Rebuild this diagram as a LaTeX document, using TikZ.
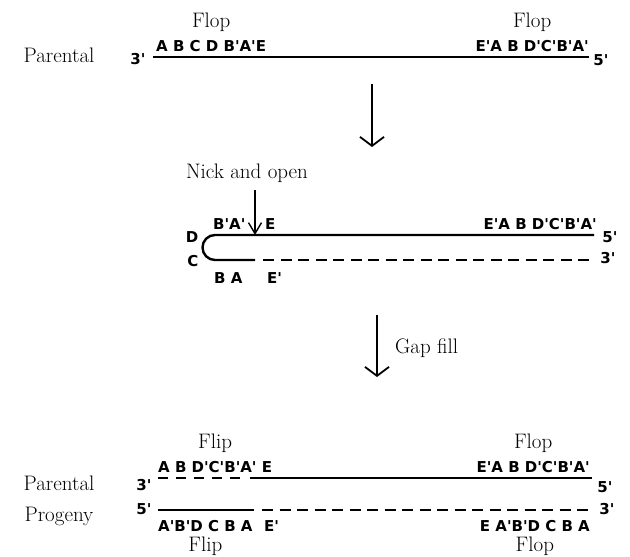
\documentclass[tikz,border=0pt]{standalone}
\usepackage{fontspec}
\newfontfamily\seqfont{DejaVu Sans}
\usepackage{tikz}
\usetikzlibrary{positioning}
\usetikzlibrary{arrows.meta}
\tikzset{seq node/.style={font=\seqfont\bfseries\fontsize{15}{17}\selectfont,inner sep=0pt},
 txt node/.style={font=\fontsize{21}{25}\selectfont,inner sep=0pt},
 strand/.style={line width=2.4pt},
 gap strand/.style={line width=2.4pt,dash pattern=on 11pt off 6.5pt},
 left gap/.style={line width=2.4pt,dash pattern=on 10pt off 8pt},
 down arrow/.style={line width=1.8pt,-{Straight Barb[length=9pt,width=24pt]}},
 nick arrow/.style={line width=1.4pt,-{Straight Barb[length=11pt,width=13pt]}},}

\begin{document}
\begin{tikzpicture}[x=1pt,y=-1pt]
\useasboundingbox (0,0) rectangle (630,557);

% parental
\coordinate (pw) at (153,57);
\coordinate (pe) at (589,57);
\draw[strand] (pw) -- (pe);
\node[txt node,anchor=base] (par) at (59,62) {Parental};
\node[seq node,anchor=base] (p3) at (138,64) {3'};
\node[seq node,anchor=base] (p5) at (601,65) {5'};
\node[seq node,anchor=base west] (pl) at (156,51) {A B C D B'A'E};
\node[seq node,anchor=base east] (pr) at (589,51) {E'A B D'C'B'A'};
\node[txt node] (flopa) [above = 8pt of pl] {Flop};
\node[txt node] (flopb) [above = 8pt of pr] {Flop};

\coordinate (a1s) at (372,84);
\coordinate (a1e) at (372,147);
\path[down arrow,draw] (a1s) -- (a1e);

% nicked hairpin
\coordinate (ut) at (215,235);
\coordinate (ue) at (594,235);
\coordinate (nk) at (255,260);
\coordinate (gs) at (263,260);
\coordinate (ge) at (594,260);
\draw[strand] (ue) -- (ut) arc[start angle=270,end angle=90,radius=12.5] -- (nk);
\draw[gap strand] (gs) -- (ge);
\node[txt node,anchor=base] (nick) at (247,178) {Nick and open};
\coordinate (ns) at (255,190);
\coordinate (nt) at (255,235);
\path[nick arrow,draw] (ns) -- (nt);
\node[seq node,anchor=base] (hd) at (192,242) {D};
\node[seq node,anchor=base] (hc) at (193,266) {C};
\node[seq node,anchor=base west] (ha) at (213,229) {B'A'};
\node[seq node,anchor=base west] (he) at (265,229) {E};
\node[seq node,anchor=base east] (hr) at (597,229) {E'A B D'C'B'A'};
\node[seq node,anchor=base west] (hb) at (214,283) {B A};
\node[seq node,anchor=base west] (hf) at (267,283) {E'};
\node[seq node,anchor=base] (h5) at (610,242) {5'};
\node[seq node,anchor=base] (h3) at (608,263) {3'};

\coordinate (a2s) at (377,315);
\coordinate (a2e) at (377,377);
\path[down arrow,draw] (a2s) -- (a2e);
\node[txt node,anchor=base west] (gap) at (395,353) {Gap fill};

% parental and progeny
\coordinate (qw) at (158,478);
\coordinate (qm) at (242,478);
\coordinate (qs) at (250,478);
\coordinate (qe) at (592,478);
\draw[left gap] (qw) -- (qm);
\draw[strand] (qs) -- (qe);
\coordinate (rw) at (158,510);
\coordinate (rm) at (254,510);
\coordinate (rs) at (262,510);
\coordinate (re) at (592,510);
\draw[strand] (rw) -- (rm);
\draw[gap strand] (rs) -- (re);
\node[txt node,anchor=base] (par2) at (59,490) {Parental};
\node[txt node,anchor=base] (prog) at (59,521) {Progeny};
\node[seq node,anchor=base] (q3) at (144,490) {3'};
\node[seq node,anchor=base] (q5) at (605,492) {5'};
\node[seq node,anchor=base] (r5) at (144,514) {5'};
\node[seq node,anchor=base] (r3) at (607,514) {3'};
\node[seq node,anchor=base west] (ql) at (158,472) {A B D'C'B'A' E};
\node[seq node,anchor=base east] (qr) at (590,472) {E'A B D'C'B'A'};
\node[seq node,anchor=base west] (rl) at (158,531) {A'B'D C B A};
\node[seq node,anchor=base west] (rf) at (264,531) {E'};
\node[seq node,anchor=base east] (rr) at (590,531) {E A'B'D C B A};
\node[txt node] (flip1) [above = 8pt of ql] {Flip};
\node[txt node] (flop1) [above = 8pt of qr] {Flop};
\node[txt node] (flip2) [below = 5pt of rl] {Flip};
\node[txt node] (flop2) [below = 5pt of rr] {Flop};
\end{tikzpicture}
\end{document}
